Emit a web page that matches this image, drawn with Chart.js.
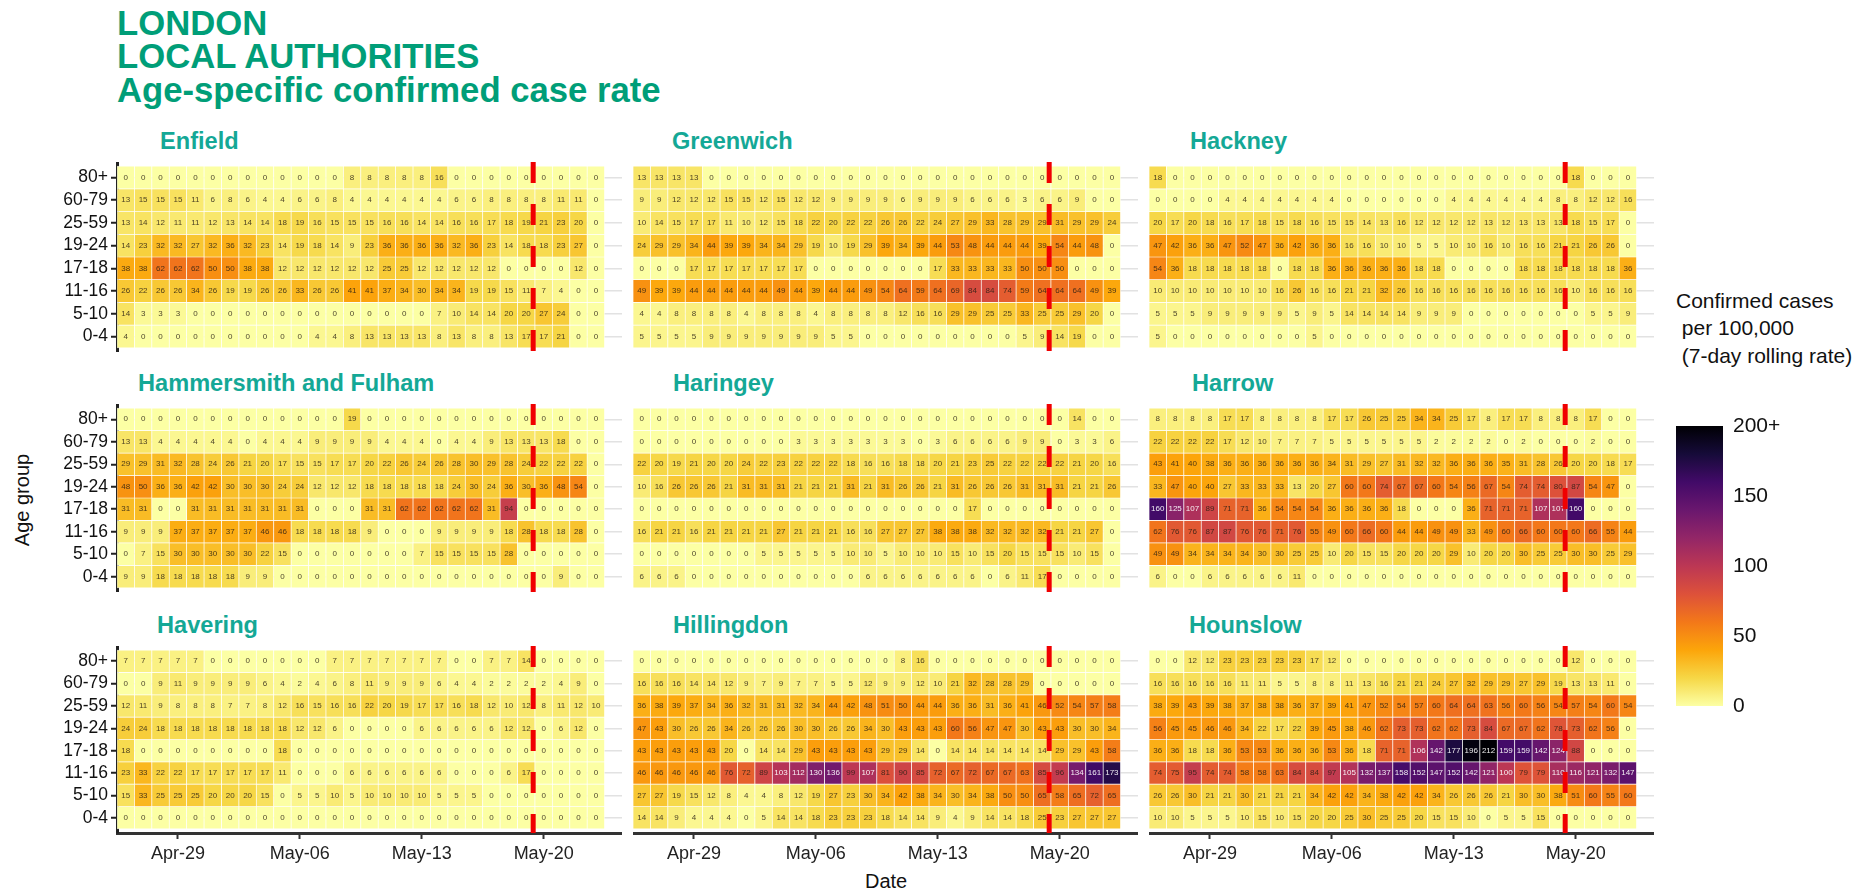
<!DOCTYPE html>
<html>
<head>
<meta charset="utf-8">
<title>London local authorities</title>
<script src="https://cdn.jsdelivr.net/npm/chart.js@4/dist/chart.umd.min.js"></script>
<style>
  html,body{margin:0;padding:0;background:#fff;overflow:hidden;}
  body{width:1872px;height:890px;position:relative;font-family:"Liberation Sans",Arial,sans-serif;}
  canvas{position:absolute;display:block;}
  .txt{position:absolute;white-space:pre;line-height:1;}
  .head{left:117px;font-size:34.7px;font-weight:bold;color:#009e78;}
  .panel{font-size:23.6px;font-weight:bold;color:#14a896;}
  .lab{font-size:20px;color:#111;}
  .leg{font-size:21px;color:#111;}
</style>
</head>
<body>
<div class="txt head" style="top:6px">LONDON</div>
<div class="txt head" style="top:39px">LOCAL AUTHORITIES</div>
<div class="txt head" style="top:73px">Age-specific confirmed case rate</div>

<div class="txt lab" style="left:865px;top:871px">Date</div>
<div class="txt lab" style="left:-24px;top:490px;transform:rotate(-90deg)">Age group</div>
<div class="txt leg" style="left:1676px;top:290px">Confirmed cases</div>
<div class="txt leg" style="left:1676px;top:317px"> per 100,000</div>
<div class="txt leg" style="left:1676px;top:345px"> (7-day rolling rate)</div>

<script>
var ageGroups=["80+","60-79","25-59","19-24","17-18","11-16","5-10","0-4"];
var dates=["Apr-26","Apr-27","Apr-28","Apr-29","Apr-30","May-01","May-02","May-03","May-04","May-05","May-06","May-07","May-08","May-09","May-10","May-11","May-12","May-13","May-14","May-15","May-16","May-17","May-18","May-19","May-20","May-21","May-22","May-23",""];
var dateTicks=["Apr-29","May-06","May-13","May-20"];
var markerDay=23.4; // the red dashed line sits just before May-20
var legendTicks=[0,50,100,150,200];

var enfield=[
  [0,0,0,0,0,0,0,0,0,0,0,0,0,8,8,8,8,8,16,0,0,0,0,0,0,0,0,0],
  [13,15,15,15,11,6,8,6,4,4,6,6,8,4,4,4,4,4,4,6,6,8,8,8,8,11,11,0],
  [13,14,12,11,11,12,13,14,14,18,19,16,15,15,15,16,16,14,14,16,16,17,18,19,21,23,20,0],
  [14,23,32,32,27,32,36,32,23,14,19,18,14,9,23,36,36,36,36,32,36,23,14,18,18,23,27,0],
  [38,38,62,62,62,50,50,38,38,12,12,12,12,12,12,25,25,12,12,12,12,12,0,0,0,0,12,0],
  [26,22,26,26,34,26,19,19,26,26,33,26,26,41,41,37,34,30,34,34,19,19,15,11,7,4,0,0],
  [14,3,3,3,0,0,0,0,0,0,0,0,0,0,0,0,0,0,7,10,14,14,20,20,27,24,0,0],
  [4,0,0,0,0,0,0,0,0,0,0,4,4,8,13,13,13,13,8,13,8,8,13,17,17,21,0,0]
];
var greenwich=[
  [13,13,13,13,0,0,0,0,0,0,0,0,0,0,0,0,0,0,0,0,0,0,0,0,0,0,0,0],
  [9,9,12,12,12,15,15,12,15,12,12,9,9,9,9,6,9,9,9,6,6,6,3,6,6,9,0,0],
  [10,14,15,17,17,11,10,12,15,18,22,20,22,22,26,26,22,24,27,29,33,28,29,29,31,29,29,24],
  [24,29,29,34,44,39,39,34,34,29,19,10,19,29,39,34,39,44,53,48,44,44,44,39,54,44,48,0],
  [0,0,0,17,17,17,17,17,17,17,0,0,0,0,0,0,0,17,33,33,33,33,50,50,50,0,0,0],
  [49,39,39,44,44,44,44,44,49,44,39,44,44,49,54,64,59,64,69,84,84,74,59,64,64,64,49,39],
  [4,4,8,8,8,8,4,8,8,8,4,8,8,8,8,12,16,16,29,29,25,25,33,25,25,29,20,0],
  [5,5,5,5,9,9,9,9,9,9,9,5,5,0,0,0,0,0,0,0,0,0,5,9,14,19,0,0]
];
var hackney=[
  [18,0,0,0,0,0,0,0,0,0,0,0,0,0,0,0,0,0,0,0,0,0,0,0,18,0,0,0],
  [0,0,0,0,4,4,4,4,4,4,4,0,0,0,0,0,0,4,4,4,4,4,4,8,8,12,12,16],
  [20,17,20,18,16,17,18,15,18,16,15,15,14,13,16,12,12,12,12,13,12,13,13,13,18,15,17,0],
  [47,42,36,36,47,52,47,36,42,36,36,16,16,10,10,5,5,10,10,16,10,16,16,21,21,26,26,0],
  [54,36,18,18,18,18,18,0,18,18,36,36,36,36,36,18,18,0,0,0,0,18,18,18,18,18,18,36],
  [10,10,10,10,10,10,10,16,26,16,16,21,21,32,26,16,16,16,16,16,16,16,16,16,10,16,16,16],
  [5,5,5,9,9,9,9,9,5,9,5,14,14,14,14,9,9,9,0,0,0,0,0,0,0,5,5,9],
  [5,0,0,0,0,0,0,0,0,5,0,0,0,0,0,0,0,0,0,0,0,0,0,0,0,0,0,0]
];
var hammersmith=[
  [0,0,0,0,0,0,0,0,0,0,0,0,0,19,0,0,0,0,0,0,0,0,0,0,0,0,0,0],
  [13,13,4,4,4,4,4,0,4,4,4,9,9,9,9,4,4,4,0,4,4,9,13,13,13,18,0,0],
  [29,29,31,32,28,24,26,21,20,17,15,15,17,17,20,22,26,24,26,28,30,29,28,24,22,22,22,0],
  [48,50,36,36,42,42,30,30,30,24,24,12,12,12,18,18,18,18,18,24,30,24,36,30,36,48,54,0],
  [31,31,0,0,31,31,31,31,31,31,31,0,0,0,31,31,62,62,62,62,62,31,94,0,0,0,0,0],
  [9,9,9,37,37,37,37,37,46,46,18,18,18,18,9,0,0,0,9,9,9,9,18,28,18,18,28,0],
  [0,7,15,30,30,30,30,30,22,15,0,0,0,0,0,0,0,7,15,15,15,15,28,0,0,0,0,0],
  [9,9,18,18,18,18,18,9,9,0,0,0,0,0,0,0,0,0,0,0,0,0,0,0,0,9,0,0]
];
var haringey=[
  [0,0,0,0,0,0,0,0,0,0,0,0,0,0,0,0,0,0,0,0,0,0,0,0,0,14,0,0],
  [0,0,0,0,0,0,0,0,0,3,3,3,3,3,3,3,0,3,6,6,6,6,9,9,0,3,3,6],
  [22,20,19,21,20,20,24,22,23,22,22,22,18,16,16,18,18,20,21,23,25,22,22,22,22,21,20,16],
  [10,16,26,26,26,21,31,31,31,21,21,21,31,21,31,26,26,21,31,26,26,26,31,31,31,21,21,26],
  [0,0,0,0,0,0,0,0,0,0,0,0,0,0,0,0,0,0,0,17,0,0,0,0,0,0,0,0],
  [16,21,21,16,21,21,21,21,27,21,21,21,16,16,27,27,27,38,38,38,32,32,32,32,21,21,27,0],
  [0,0,0,0,0,0,0,5,5,5,5,5,10,10,5,10,10,10,15,10,15,20,15,15,15,10,15,0],
  [6,6,6,0,0,0,0,0,0,0,0,0,0,6,6,6,6,6,6,6,0,6,11,17,0,0,0,0]
];
var harrow=[
  [8,8,8,8,17,17,8,8,8,8,17,17,26,25,25,34,34,25,17,8,17,17,8,8,8,17,0,0],
  [22,22,22,22,17,12,10,7,7,7,5,5,5,5,5,5,2,2,2,2,0,2,0,0,0,2,0,0],
  [43,41,40,38,36,36,36,36,36,36,34,31,29,27,31,32,32,36,36,36,35,31,28,26,20,20,18,17],
  [33,47,40,40,27,33,33,33,13,20,27,60,60,74,67,67,60,54,56,67,54,74,74,80,87,54,47,0],
  [160,125,107,89,71,71,36,54,54,54,36,36,36,36,18,0,0,0,36,71,71,71,107,107,160,0,0,0],
  [62,76,76,87,87,76,76,71,76,55,49,60,66,60,44,44,49,49,33,49,60,66,60,60,60,66,55,44],
  [49,49,34,34,34,34,30,30,25,25,10,20,15,15,20,20,20,29,10,20,20,30,25,25,30,30,25,29],
  [6,0,0,6,6,6,6,6,11,0,0,0,0,0,0,0,0,0,0,0,0,0,0,0,0,0,0,0]
];
var havering=[
  [7,7,7,7,7,0,0,0,0,0,0,0,7,7,7,7,7,7,7,0,0,7,7,14,0,0,0,0],
  [0,0,9,11,9,9,9,9,6,4,2,4,6,8,11,9,9,9,6,4,4,2,2,2,2,4,9,0],
  [12,11,9,8,8,8,7,7,8,12,16,15,16,16,22,20,19,17,17,16,18,12,10,12,8,11,12,10],
  [24,24,18,18,18,18,18,18,18,18,12,12,6,0,0,0,0,6,6,6,6,6,12,12,0,6,12,0],
  [18,0,0,0,0,0,0,0,0,18,0,0,0,0,0,0,0,0,0,0,0,0,0,0,0,0,0,0],
  [23,33,22,22,17,17,17,17,17,11,0,0,0,6,6,6,6,6,6,0,0,0,6,17,0,0,0,0],
  [15,33,25,25,25,20,20,20,15,0,5,5,10,5,10,10,10,10,5,5,5,0,0,0,0,0,0,0],
  [0,0,0,0,0,0,0,0,0,0,0,0,0,0,0,0,0,0,0,0,0,0,0,0,0,0,0,0]
];
var hillingdon=[
  [0,0,0,0,0,0,0,0,0,0,0,0,0,0,0,8,16,0,0,0,0,0,0,0,0,0,0,0],
  [16,16,16,14,14,12,9,7,9,7,7,5,5,12,9,9,12,10,21,32,28,28,29,0,0,0,0,0],
  [36,38,39,37,34,36,32,31,31,32,34,44,42,48,51,50,44,44,36,36,31,36,41,46,52,54,57,58],
  [47,43,30,26,26,34,26,26,26,30,30,26,26,34,30,43,43,43,60,56,47,47,30,43,43,30,30,34],
  [43,43,43,43,43,20,0,14,14,29,43,43,43,43,29,29,14,0,14,14,14,14,14,14,29,29,43,58],
  [46,46,46,46,46,76,72,89,103,112,130,136,99,107,81,90,85,72,67,72,67,67,63,85,96,134,161,173],
  [27,27,19,15,12,8,4,4,8,12,19,27,23,30,34,42,38,34,30,34,38,50,50,65,58,65,72,65],
  [14,14,9,4,4,4,0,5,14,14,18,23,23,23,18,14,14,9,4,9,14,14,18,25,23,27,27,27]
];
var hounslow=[
  [0,0,12,12,23,23,23,23,23,17,12,0,0,0,0,0,0,0,0,0,0,0,0,0,12,0,0,0],
  [16,16,16,16,16,11,11,5,5,8,8,11,13,16,21,21,24,27,32,29,29,27,29,19,13,13,11,0],
  [38,39,43,39,38,37,38,38,36,37,39,41,47,52,54,57,60,64,64,63,56,60,56,54,57,54,60,54],
  [56,45,45,46,46,34,22,17,22,39,45,38,46,62,73,73,62,62,73,84,67,67,62,78,73,62,56,0],
  [36,36,18,18,36,53,53,36,36,36,53,36,18,71,71,106,142,177,196,212,159,159,142,124,88,0,0,0],
  [74,75,95,74,74,58,58,63,84,84,97,105,132,137,158,152,147,152,142,121,100,79,79,110,116,121,132,147],
  [26,26,30,21,21,30,21,21,21,34,42,42,34,38,42,42,34,26,26,26,21,30,30,38,51,60,55,60],
  [10,10,5,5,5,10,15,10,15,20,20,25,30,25,25,20,15,15,10,0,5,5,15,0,0,0,0,0]
];

// panels, left to right and top to bottom
var panelNames=["Enfield","Greenwich","Hackney","Hammersmith and Fulham","Haringey","Harrow","Havering","Hillingdon","Hounslow"];
var panelData=[enfield,greenwich,hackney,hammersmith,haringey,harrow,havering,hillingdon,hounslow];
var titleLeft=[160,672,1190,138,673,1192,157,673,1189];
var titleTop=[130,372,614];
var colLeft=[117,633,1149];
var rowTop=[162,404,646];
var rowHeight=[190,188,187];
var plotWidth=505;
var axisSpace=87;
var axisBelow=50;

// inferno, light end first
var inferno=["#fcffa4","#f6d746","#fca50a","#f37819","#dd513a","#bc3754","#932667","#6a176e","#420a68","#160b39","#000004"];

function hexToRgb(h){
  return [parseInt(h.substr(1,2),16),parseInt(h.substr(3,2),16),parseInt(h.substr(5,2),16)];
}
function cellColor(v){
  var t=Math.min(v,200)/200*(inferno.length-1);
  var i=Math.min(Math.floor(t),inferno.length-2);
  var a=hexToRgb(inferno[i]),b=hexToRgb(inferno[i+1]),f=t-i;
  return "rgb("+Math.round(a[0]+(b[0]-a[0])*f)+","+Math.round(a[1]+(b[1]-a[1])*f)+","+Math.round(a[2]+(b[2]-a[2])*f)+")";
}

// writes the number in each cell and the red dashed line over the bars
var cellText={
  id:"cellText",
  afterDatasetsDraw:function(chart){
    var ctx=chart.ctx,x=chart.scales.x,y=chart.scales.y;
    var rows=chart.options.plugins.cellText.rows;
    ctx.save();
    ctx.font="8px 'Liberation Sans'";
    ctx.textAlign="center";
    ctx.textBaseline="middle";
    rows.forEach(function(row,r){
      row.forEach(function(v,c){
        ctx.fillStyle=v>=100?"rgba(255,255,255,0.92)":"rgba(40,30,20,0.85)";
        ctx.fillText(String(v),x.getPixelForValue(c),y.getPixelForValue(rows.length-1-r));
      });
    });
    ctx.strokeStyle="#f00000";
    ctx.lineWidth=5;
    ctx.setLineDash([21,21]);
    ctx.beginPath();
    ctx.moveTo(x.getPixelForValue(markerDay),chart.chartArea.top);
    ctx.lineTo(x.getPixelForValue(markerDay),chart.chartArea.bottom);
    ctx.stroke();
    ctx.restore();
  }
};

function addCanvas(left,top,w,h){
  var c=document.createElement("canvas");
  c.width=w;c.height=h;
  c.style.left=left+"px";c.style.top=top+"px";
  c.style.width=w+"px";c.style.height=h+"px";
  document.body.appendChild(c);
  return c;
}

panelData.forEach(function(rows,p){
  var col=p%3,line=Math.floor(p/3);
  var hasY=col===0,hasX=line===2;

  var t=document.createElement("div");
  t.className="txt panel";
  t.textContent=panelNames[p];
  t.style.left=titleLeft[p]+"px";
  t.style.top=titleTop[line]+"px";
  document.body.appendChild(t);

  var sets=rows.map(function(row,r){
    var level=rows.length-1-r;
    return {
      data:row.map(function(){return [level-0.5,level+0.5];}),
      backgroundColor:row.map(cellColor),
      borderColor:"rgba(255,255,255,0.75)",
      borderWidth:0.7,
      barPercentage:1,
      categoryPercentage:1,
      borderSkipped:false
    };
  });

  var yw=hasY?axisSpace:0;
  var xh=hasX?axisBelow:0;
  var ctx=addCanvas(colLeft[col]-yw,rowTop[line],plotWidth+yw,rowHeight[line]+xh);
  new Chart(ctx,{
    type:"bar",
    data:{labels:dates,datasets:sets},
    plugins:[cellText],
    options:{
      responsive:false,
      animation:false,
      devicePixelRatio:1,
      layout:{padding:0},
      plugins:{legend:{display:false},tooltip:{enabled:false},cellText:{rows:rows}},
      scales:{
        x:{
          stacked:true,
          display:hasX,
          afterFit:function(s){s.height=xh;s.paddingLeft=0;s.paddingRight=0;},
          afterBuildTicks:function(s){
            s.ticks=s.ticks.filter(function(k){return dateTicks.indexOf(dates[k.value])>=0;});
          },
          border:{color:"#333",width:3},
          grid:{offset:false,drawOnChartArea:false,drawTicks:true,tickLength:6,tickColor:"#333",tickWidth:2},
          ticks:{autoSkip:false,maxRotation:0,padding:4,color:"#222",font:{family:"Liberation Sans",size:18}}
        },
        y:{
          min:-0.68,
          max:7.68,
          afterFit:function(s){s.width=yw;s.paddingTop=0;s.paddingBottom=0;},
          afterBuildTicks:function(s){
            s.ticks=ageGroups.map(function(a,i){return {value:i};});
          },
          border:{display:hasY,color:"#222",width:3},
          grid:{color:"#e2e2e2",lineWidth:1.5,drawTicks:hasY,tickLength:6,tickColor:"#222",tickWidth:2},
          ticks:{
            display:hasY,
            autoSkip:false,
            padding:3,
            color:"#111",
            font:{family:"Liberation Sans",size:17.5},
            callback:function(v){return ageGroups[ageGroups.length-1-v];}
          }
        }
      }
    }
  });
});

// colour bar
var barCtx=addCanvas(1676,414,110,304);
new Chart(barCtx,{
  type:"bar",
  data:{
    labels:[""],
    datasets:[{
      data:[[legendTicks[0],legendTicks[legendTicks.length-1]]],
      barPercentage:1,
      categoryPercentage:1,
      backgroundColor:function(c){
        var a=c.chart.chartArea;
        if(!a)return inferno[0];
        var g=c.chart.ctx.createLinearGradient(0,a.bottom,0,a.top);
        inferno.forEach(function(h,i){g.addColorStop(i/(inferno.length-1),h);});
        return g;
      }
    }]
  },
  options:{
    responsive:false,
    animation:false,
    devicePixelRatio:1,
    layout:{padding:{top:12,bottom:12}},
    plugins:{legend:{display:false},tooltip:{enabled:false}},
    scales:{
      x:{display:false},
      y:{
        position:"right",
        min:0,
        max:200,
        afterFit:function(s){s.width=63;s.paddingTop=0;s.paddingBottom=0;},
        afterBuildTicks:function(s){
          s.ticks=legendTicks.map(function(v){return {value:v};});
        },
        border:{display:false},
        grid:{display:false},
        ticks:{
          padding:2,
          color:"#111",
          font:{family:"Liberation Sans",size:21},
          callback:function(v){return v===200?"200+":String(v);}
        }
      }
    }
  }
});
</script>
</body>
</html>
